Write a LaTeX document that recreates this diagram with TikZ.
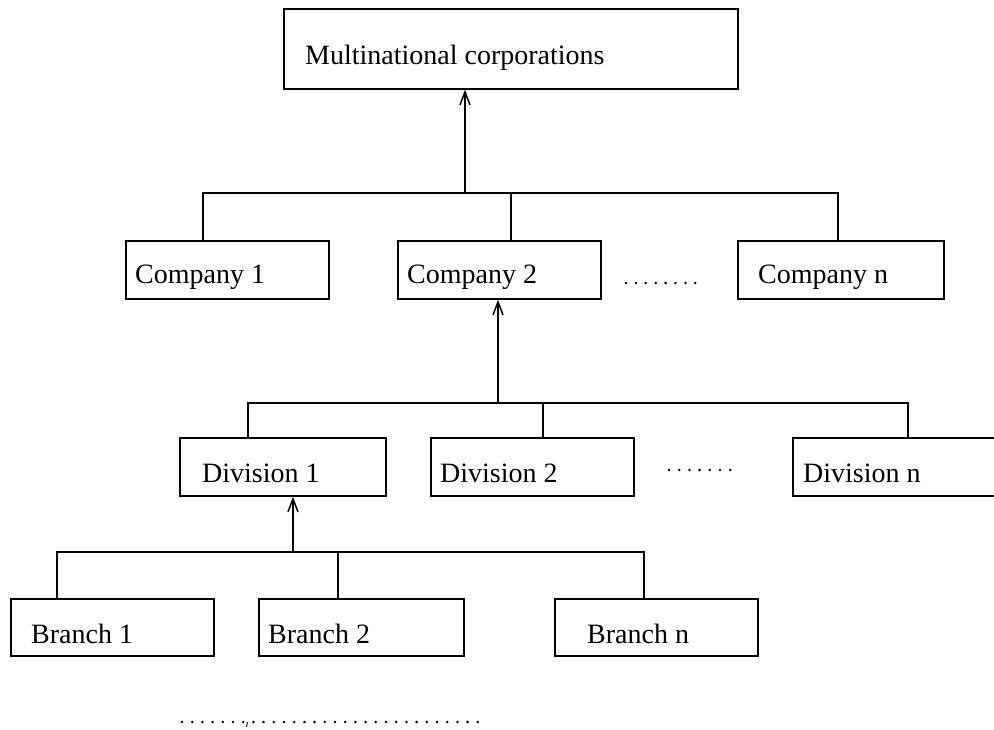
\documentclass[tikz,border=0pt]{standalone}
\usepackage{fontspec}
\setmainfont{Liberation Serif}
\usetikzlibrary{arrows.meta}
\begin{document}
\begin{tikzpicture}[x=1pt,y=-1pt,
  box/.style={draw, line width=1.8pt, inner sep=0pt, anchor=north west},
  lbl/.style={inner sep=0pt, anchor=base west, font=\fontsize{28}{34}\selectfont},
  link/.style={line width=1.8pt},
  up/.style={line width=1.8pt, -{Straight Barb[length=13pt,width=10pt,line width=1.5pt]}}]
\useasboundingbox (0,0) rectangle (994,730);

% ---- top level
\node[box, minimum width=454pt, minimum height=80pt] (mnc) at (283,8) {};
\node[lbl] (mnct) at ([shift={(22,57)}]mnc.north west) {Multinational corporations};

% ---- companies
\node[box, minimum width=203pt, minimum height=58pt] (c1) at (125,240) {};
\node[box, minimum width=203pt, minimum height=58pt] (c2) at (397,240) {};
\node[box, minimum width=206pt, minimum height=58pt] (cn) at (737,240) {};
\node[lbl] (c1t) at ([shift={(10,44)}]c1.north west) {Company 1};
\node[lbl] (c2t) at ([shift={(10,44)}]c2.north west) {Company 2};
\node[lbl] (cnt) at ([shift={(21,44)}]cn.north west) {Company n};

% ---- divisions
\node[box, minimum width=206pt, minimum height=58pt] (d1) at (179,437) {};
\node[box, minimum width=203pt, minimum height=58pt] (d2) at (430,437) {};
\node[box, minimum width=220pt, minimum height=58pt] (dn) at (792,437) {};
\node[lbl] (d1t) at ([shift={(23,45)}]d1.north west) {Division 1};
\node[lbl] (d2t) at ([shift={(10,45)}]d2.north west) {Division 2};
\node[lbl] (dnt) at ([shift={(11,45)}]dn.north west) {Division n};

% ---- branches
\node[box, minimum width=203pt, minimum height=57pt] (b1) at (10,598) {};
\node[box, minimum width=205pt, minimum height=57pt] (b2) at (258,598) {};
\node[box, minimum width=203pt, minimum height=57pt] (bn) at (554,598) {};
\node[lbl] (b1t) at ([shift={(21,45)}]b1.north west) {Branch 1};
\node[lbl] (b2t) at ([shift={(10,45)}]b2.north west) {Branch 2};
\node[lbl] (bnt) at ([shift={(33,45)}]bn.north west) {Branch n};

% ---- bus coordinates of the three trees
\coordinate (cL) at (203,193); \coordinate (cM) at (511,193);
\coordinate (cR) at (838,193); \coordinate (cA) at (465,193);
\coordinate (dL) at (248,403); \coordinate (dM) at (543,403);
\coordinate (dR) at (908,403); \coordinate (dA) at (498,403);
\coordinate (bL) at (57,552);  \coordinate (bM) at (338,552);
\coordinate (bR) at (644,552); \coordinate (bA) at (293,552);

% companies -> multinational corporations
\draw[link] (c1.north -| cL) -- (cL) -- (cR) -- (cn.north -| cR);
\draw[link] (cM) -- (c2.north -| cM);
\draw[up] (cA) -- (cA |- mnc.south);

% divisions -> company 2
\draw[link] (d1.north -| dL) -- (dL) -- (dR) -- (dn.north -| dR);
\draw[link] (dM) -- (d2.north -| dM);
\draw[up] (dA) -- (dA |- c2.south);

% branches -> division 1
\draw[link] (b1.north -| bL) -- (bL) -- (bR) -- (bn.north -| bR);
\draw[link] (bM) -- (b2.north -| bM);
\draw[up] (bA) -- (bA |- d1.south);

% ---- ellipsis dots
\foreach \k in {0,...,7} \fill (626+9.9*\k,283) circle (1.4);
\foreach \k in {0,...,6} \fill (669+10.2*\k,470) circle (1.4);
\foreach \k in {0,...,29} \fill (182+10.2*\k,722) circle (1.4);
\draw[line width=0.9pt] (247.5,722) -- (246.5,727);
\end{tikzpicture}
\end{document}
